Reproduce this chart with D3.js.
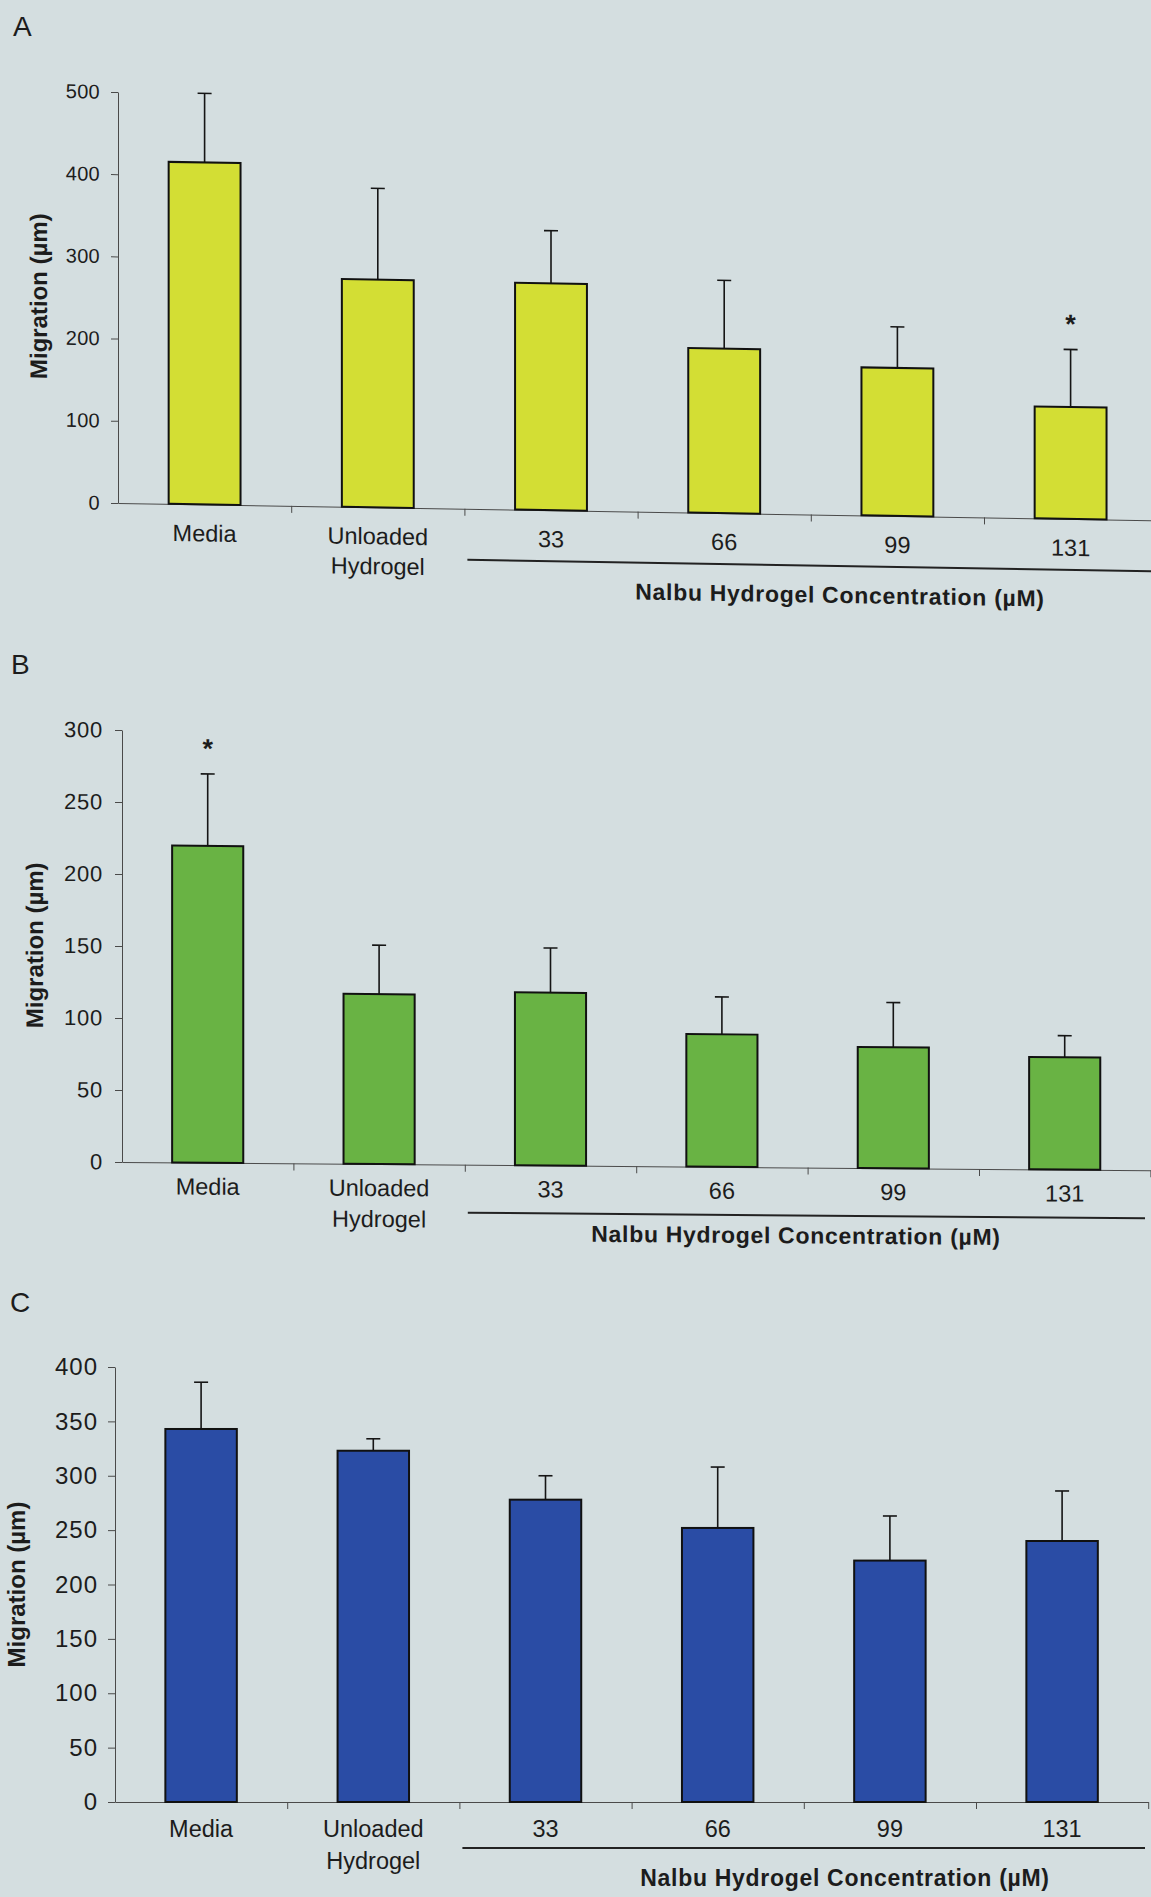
<!DOCTYPE html>
<html lang="en">
<head>
<meta charset="UTF-8">
<title>Migration vs Nalbu hydrogel concentration</title>
<style>
  body { margin: 0; background: #d4dee0; }
  svg { display: block; }
  text { font-family: "Liberation Sans", Arial, sans-serif; fill: #1c1c1c; }
  .axis path, .axis line { stroke: #4a4a4a; stroke-width: 1; }
  .axis text { fill: #1c1c1c; }
  .bar { stroke: #111; stroke-width: 2; }
  .err { stroke: #151515; stroke-width: 1.6; }
  .bold { font-weight: bold; }
  .underline { stroke: #222; stroke-width: 2; }
</style>
<script src="https://d3js.org/d3.v7.min.js"></script>
</head>
<body>
<script>
// values
const categories = ["Media", "Unloaded Hydrogel", "33", "66", "99", "131"];

const migrationA = [416, 277, 276, 200, 180, 136];
const errorA = [84, 111, 64, 83, 50, 70];
const ticksA = [0, 100, 200, 300, 400, 500];
const starsA = ["131"];

const migrationB = [220, 118, 120, 92, 84, 78];
const errorB = [50, 34, 31, 26, 31, 15];
const ticksB = [0, 50, 100, 150, 200, 250, 300];
const starsB = ["Media"];

const migrationC = [343, 323, 278, 252, 222, 240];
const errorC = [43, 11, 22, 56, 41, 46];
const ticksC = [0, 50, 100, 150, 200, 250, 300, 350, 400];
const starsC = [];

const yTitle = "Migration (\u00b5m)";
const xTitle = "Nalbu Hydrogel Concentration (\u00b5M)";

const W = 1151, H = 1897;

// layout of each panel (the scan is slightly tilted, hence skew)
const panels = [
  { letter: "A", values: migrationA, errors: errorA, ticks: ticksA, stars: starsA, color: "#d3de34",
    axisX: 118, yZero: 503, yTop: 92, step: 173.2, skew: 0.95,
    tickFont: 20, tickSpace: 0.3, tickPad: 11, letterXY: [13, 36], yTitleX: 47,
    labelGap: 37, lineGap: 30, underGap: 51, underEnd: 1160, titleX: 840, titleGap: 88 },
  { letter: "B", values: migrationB, errors: errorB, ticks: ticksB, stars: starsB, color: "#69b344",
    axisX: 122, yZero: 1162, yTop: 730, step: 171.4, skew: 0.46,
    tickFont: 22, tickSpace: 0.8, tickPad: 12, letterXY: [11, 674], yTitleX: 43,
    labelGap: 32, lineGap: 31, underGap: 48, underEnd: 1145, titleX: 796, titleGap: 76 },
  { letter: "C", values: migrationC, errors: errorC, ticks: ticksC, stars: starsC, color: "#2a4ca5",
    axisX: 115, yZero: 1802, yTop: 1367, step: 172.2, skew: 0,
    tickFont: 24, tickSpace: 1, tickPad: 10, letterXY: [10, 1312], yTitleX: 25,
    labelGap: 35, lineGap: 32, underGap: 46, underEnd: 1145, titleX: 845, titleGap: 84 }
];

const svg = d3.select("body").append("svg")
  .attr("width", W)
  .attr("height", H);

svg.append("rect")
  .attr("width", W)
  .attr("height", H)
  .attr("fill", "#d4dee0");

panels.forEach(function(p) {
  svg.append("text")
    .attr("x", p.letterXY[0])
    .attr("y", p.letterXY[1])
    .style("font-size", "28px")
    .text(p.letter);

  const g = svg.append("g")
    .attr("transform", `translate(${p.axisX},0) skewY(${p.skew}) translate(${-p.axisX},0)`);

  const y = d3.scaleLinear()
    .domain([0, d3.max(p.ticks)])
    .range([p.yZero, p.yTop]);

  const x = d3.scaleBand()
    .domain(categories)
    .range([p.axisX, p.axisX + 6 * p.step])
    .paddingInner(0.585)
    .paddingOuter(0.2925);

  const xEdge = d3.scaleLinear()
    .domain([0, 6])
    .range([p.axisX, p.axisX + 6 * p.step]);

  // category boundary ticks
  g.append("g")
    .attr("class", "axis")
    .attr("transform", `translate(0,${p.yZero})`)
    .call(d3.axisBottom(xEdge)
      .tickValues([1, 2, 3, 4, 5, 6].filter(i => xEdge(i) <= W))
      .tickFormat("")
      .tickSize(7)
      .tickSizeOuter(0));

  g.append("g")
    .attr("class", "axis")
    .attr("transform", `translate(${p.axisX},0)`)
    .call(d3.axisLeft(y)
      .tickValues(p.ticks)
      .tickSize(7)
      .tickSizeOuter(0)
      .tickPadding(p.tickPad))
    .selectAll("text")
    .style("font-size", p.tickFont + "px")
    .style("letter-spacing", p.tickSpace + "px");

  g.append("text")
    .attr("class", "bold")
    .attr("text-anchor", "middle")
    .attr("transform", `translate(${p.yTitleX},${(p.yZero + p.yTop) / 2}) rotate(-90)`)
    .style("font-size", "24px")
    .text(yTitle);

  const data = categories.map((c, i) => ({ cat: c, v: p.values[i], e: p.errors[i] }));

  // error bars (upper only)
  const err = g.selectAll(".errgrp")
    .data(data)
    .enter()
    .append("g");

  err.append("line")
    .attr("class", "err")
    .attr("x1", d => x(d.cat) + x.bandwidth() / 2)
    .attr("x2", d => x(d.cat) + x.bandwidth() / 2)
    .attr("y1", d => y(d.v))
    .attr("y2", d => y(d.v + d.e));

  err.append("line")
    .attr("class", "err")
    .attr("x1", d => x(d.cat) + x.bandwidth() / 2 - 7)
    .attr("x2", d => x(d.cat) + x.bandwidth() / 2 + 7)
    .attr("y1", d => y(d.v + d.e))
    .attr("y2", d => y(d.v + d.e));

  g.selectAll(".bar")
    .data(data)
    .enter()
    .append("rect")
    .attr("class", "bar")
    .attr("fill", p.color)
    .attr("x", d => x(d.cat))
    .attr("y", d => y(d.v))
    .attr("width", x.bandwidth())
    .attr("height", d => y(0) - y(d.v));

  g.selectAll(".star")
    .data(data.filter(d => p.stars.includes(d.cat)))
    .enter()
    .append("text")
    .attr("class", "bold")
    .attr("text-anchor", "middle")
    .attr("x", d => x(d.cat) + x.bandwidth() / 2)
    .attr("y", d => y(d.v + d.e) - 16)
    .style("font-size", "27px")
    .text("*");

  // category labels, split on the space
  const lab = g.selectAll(".cat")
    .data(categories)
    .enter()
    .append("text")
    .attr("text-anchor", "middle")
    .style("font-size", "23.5px");

  lab.selectAll("tspan")
    .data(c => c.split(" ").map((t, k) => ({ c: c, t: t, k: k })))
    .enter()
    .append("tspan")
    .attr("x", d => x(d.c) + x.bandwidth() / 2)
    .attr("y", d => p.yZero + p.labelGap + d.k * p.lineGap)
    .text(d => d.t);

  g.append("line")
    .attr("class", "underline")
    .attr("x1", xEdge(2) + 3)
    .attr("x2", p.underEnd)
    .attr("y1", p.yZero + p.underGap)
    .attr("y2", p.yZero + p.underGap);

  g.append("text")
    .attr("class", "bold")
    .attr("text-anchor", "middle")
    .attr("x", p.titleX)
    .attr("y", p.yZero + p.titleGap)
    .style("font-size", "23px")
    .style("letter-spacing", "0.7px")
    .text(xTitle);
});
</script>
</body>
</html>
